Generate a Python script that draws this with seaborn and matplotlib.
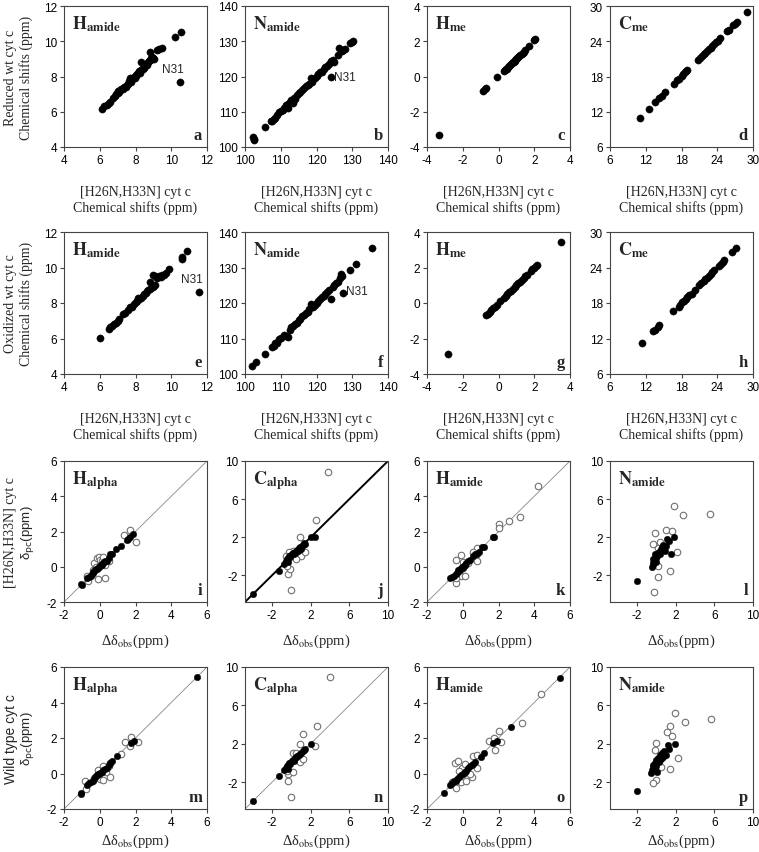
import matplotlib
matplotlib.use("Agg")
import matplotlib.pyplot as plt
import seaborn as sns
import pandas as pd

# ---------------- data ----------------
# rows 1-2: chemical shifts, wt cyt c (y) vs [H26N,H33N] cyt c (x)
a_pts = [(6.15,6.15),(6.25,6.3),(6.4,6.4),(6.5,6.5),(6.6,6.55),(6.75,6.8),(6.85,6.9),(6.9,7.0),(7.0,7.05),(7.0,7.15),
         (7.1,7.1),(7.15,7.25),(7.2,7.3),(7.3,7.3),(7.35,7.4),(7.45,7.4),(7.5,7.5),(7.6,7.6),(7.65,7.75),(7.7,7.9),
         (7.75,7.7),(7.8,7.85),(7.85,7.9),(7.9,8.0),(7.95,7.9),(8.0,8.05),(8.05,8.1),(8.1,8.15),(8.15,8.2),(8.2,8.3),
         (8.25,8.2),(8.3,8.85),(8.3,8.35),(8.35,8.45),(8.4,8.4),(8.45,8.5),(8.5,8.55),(8.55,8.6),(8.6,8.7),(8.65,8.65),
         (8.7,8.8),(8.75,8.9),(8.8,9.4),(8.8,8.95),(8.85,9.05),(8.9,9.0),(8.95,9.1),(9.0,9.05),(9.05,9.0),(9.2,9.5),
         (9.3,9.55),(9.5,9.6),(10.2,10.25),(10.55,10.55),(10.5,7.7)]
b_pts = [(102.3,102.8),(102.5,102.2),(102.6,102.0),(105.5,105.7),(107.2,107.3),(107.6,107.5),(108,108),(108.5,108.3),
         (109,109.2),(109.5,109.8),(110,110.3),(110.5,110.6),(111,111),(111.5,111.8),(112,111.0),(112,112.2),(112.5,112.8),
         (113,113.2),(113.5,112.6),(113.8,114),(114,113.5),(114.5,114.8),(115,115.3),(115.5,115.5),(116,116.2),(116.5,116.6),
         (117,117.3),(117.5,117.6),(118,118),(118.5,119.7),(118.8,118.5),(119,119.2),(119.5,119.5),(120,120.1),(120.5,120.6),
         (121,121.2),(121.5,121.4),(122,122.1),(122.5,122.6),(123,123.1),(123.5,123.5),(124,124.5),(124,120),(124.5,124.8),
         (125,124.2),(126,126),(126.3,128),(127,127.3),(127.5,127.5),(128,127.8),(129.5,129.5),(130,129.8),(130.3,130.2)]
c_pts = [(-3.35,-3.3),(-0.85,-0.8),(-0.75,-0.7),(-0.7,-0.65),(-0.1,-0.05),(0.3,0.3),(0.35,0.35),(0.4,0.4),(0.5,0.45),
         (0.55,0.55),(0.6,0.6),(0.65,0.65),(0.7,0.7),(0.75,0.75),(0.8,0.8),(0.85,0.85),(0.9,0.9),(0.95,0.95),(1.0,1.0),
         (1.05,1.05),(1.1,1.1),(1.15,1.15),(1.2,1.2),(1.3,1.3),(1.35,1.35),(1.4,1.4),(1.5,1.5),(1.7,1.75),(2.0,2.05),(2.05,2.1)]
d_pts = [(11,11),(12.5,12.5),(13.5,13.6),(14.3,14.4),(14.7,14.7),(15.3,15.4),(16.7,16.8),(17.3,17.4),(17.6,17.5),(18,18.1),
         (18.3,18.4),(18.6,18.7),(18.8,18.9),(19,19.1),(20.8,20.8),(21.1,21.1),(21.5,21.5),(21.8,21.9),(22,22),(22.3,22.3),
         (22.6,22.6),(22.9,22.9),(23.2,23.2),(23.5,23.5),(23.8,23.8),(24.1,24.1),(24.4,24.5),(25.7,25.8),(26,26),(26.6,26.7),
         (27,27),(27.3,27.3),(29,29)]
e_pts = [(6.0,6.05),(6.5,6.55),(6.6,6.65),(6.7,6.7),(6.8,6.8),(6.9,6.9),(7.0,7.0),(7.05,7.1),(7.3,7.4),(7.4,7.45),(7.6,7.6),
         (7.7,7.75),(7.8,7.8),(7.9,7.95),(8.0,8.05),(8.1,8.1),(8.15,8.3),(8.2,8.2),(8.3,8.3),(8.4,8.4),(8.5,8.5),(8.6,8.55),
         (8.65,8.7),(8.7,8.75),(8.8,8.8),(8.8,9.2),(8.9,8.95),(9.0,9.6),(9.0,8.9),(9.1,9.5),(9.1,9.0),(9.2,9.4),(9.3,9.5),
         (9.4,9.45),(9.5,9.55),(9.6,9.6),(9.7,9.7),(9.85,9.9),(10.6,10.5),(10.6,10.6),(10.9,10.95),(11.55,8.6)]
f_pts = [(102,102.2),(103,103.3),(105.5,105.6),(107.5,107.5),(108,108),(108.5,108.6),(109,108.8),(109.5,109.8),(110,110.2),
         (111,111),(111.5,110.8),(112,110.5),(112.5,112.5),(113,113.3),(113.5,113.6),(114,114.2),(114.5,114.4),(115,115.2),
         (115.5,115.6),(116,116.2),(116.5,116.6),(117,117.2),(117.5,117.6),(118,118.2),(118.5,119.6),(119,119),(119.5,119.5),
         (120,120.1),(120.5,120.6),(121,121.1),(121.5,121.6),(122,122.1),(122.5,122.6),(123,123.2),(123.5,123.6),(124,121),
         (124.5,124.5),(125,125.1),(125.5,125.6),(126,126),(126.5,127),(126.8,128.3),(127,127.5),(127.5,122.8),(129.5,129.3),
         (131,130.9),(135.5,135.5)]
g_pts = [(-2.85,-2.9),(-0.7,-0.7),(-0.6,-0.6),(-0.5,-0.5),(-0.4,-0.4),(-0.3,-0.3),(-0.2,-0.2),(-0.1,-0.1),(0.1,0.1),(0.3,0.3),
         (0.4,0.4),(0.5,0.5),(0.6,0.6),(0.7,0.7),(0.8,0.8),(0.9,0.9),(1.0,1.0),(1.1,1.1),(1.2,1.2),(1.3,1.3),(1.4,1.4),
         (1.5,1.5),(1.6,1.6),(1.8,1.8),(1.9,1.9),(2.0,2.0),(2.1,2.1),(2.15,2.15),(3.5,3.45)]
h_pts = [(11.3,11.2),(13.2,13.2),(13.6,13.5),(14.0,14.0),(14.2,14.2),(16.6,16.6),(17.5,17.3),(17.8,17.7),(18.1,18.1),
         (18.4,18.4),(18.7,18.7),(19,19),(19.3,19.3),(19.7,19.6),(20.3,20.2),(21,21),(21.3,21.3),(21.7,21.7),(22,22),
         (22.3,22.3),(22.6,22.6),(22.9,22.9),(23.2,23.2),(23.5,23.5),(24.3,24.3),(24.6,24.6),(24.9,24.9),(25.2,25.2),
         (26.5,26.6),(27.2,27.3)]

# rows 3-4: delta_pc (y) vs delta_obs (x); filled and open symbols
i_fill = [(-1.0,-1.05),(-1.05,-1.0),(-0.7,-0.65),(-0.6,-0.6),(-0.5,-0.5),(-0.45,-0.4),(-0.4,-0.35),(-0.35,-0.3),(-0.3,-0.25),
          (-0.25,-0.2),(-0.2,-0.15),(-0.15,-0.1),(-0.1,-0.05),(-0.05,0.0),(0.0,0.05),(0.05,0.1),(0.1,0.1),(0.15,0.15),(0.2,0.2),
          (0.25,0.25),(0.3,0.3),(0.4,0.35),(0.5,0.5),(0.6,0.7),(0.7,0.75),(0.9,1.0),(1.2,1.15),(1.5,1.5),(1.6,1.6),(1.7,1.7),(1.85,1.85)]
i_open = [(-0.7,-0.5),(-0.65,-0.8),(-0.3,0.2),(-0.15,0.5),(-0.05,0.55),(0.0,0.4),(0.1,0.3),(-0.1,-0.7),(0.3,-0.65),(0.2,0.55),
          (0.5,0.35),(1.35,1.8),(1.7,2.1),(2.05,1.4),(-0.4,-0.2),(0.3,0.1),(-0.2,0.0)]
j_fill = [(-4.0,-4.0),(-1.3,-1.5),(-0.8,-0.8),(-0.6,-0.5),(-0.5,-0.3),(-0.4,-0.6),(-0.3,-0.2),(-0.2,0.0),(-0.1,-0.1),(0.0,0.1),
          (0.1,0.2),(0.2,0.3),(0.3,0.2),(0.4,0.5),(0.5,0.4),(0.6,0.7),(0.7,0.6),(0.8,0.9),(0.9,1.0),(1.0,0.8),(1.1,1.1),(1.2,1.2),
          (1.3,1.4),(1.4,1.3),(2.0,2.0),(2.4,2.0)]
j_open = [(3.8,8.8),(2.5,3.8),(0.0,-3.5),(-0.3,-1.9),(-0.1,-1.3),(-0.5,-1.0),(0.9,2.0),(1.0,0.0),(0.2,0.6),(-0.2,0.4),
          (0.5,-0.3),(-0.6,0.0),(1.4,0.5)]
k_fill = [(-0.7,-0.65),(-0.6,-0.6),(-0.5,-0.55),(-0.4,-0.4),(-0.3,-0.35),(-0.25,-0.2),(-0.2,-0.25),(-0.15,-0.1),(-0.1,-0.15),
          (-0.05,0.0),(0.0,-0.05),(0.05,0.05),(0.1,0.1),(0.15,0.1),(0.2,0.2),(0.3,0.3),(0.4,0.4),(0.6,0.6),(0.7,0.7),(0.8,0.7),
          (0.9,0.85),(1.1,1.1),(1.2,1.1),(1.7,1.7),(1.75,1.7)]
k_open = [(-0.35,0.4),(-0.1,0.65),(-0.35,-0.9),(-0.1,-0.55),(0.1,-0.5),(0.0,0.25),(0.8,0.3),(0.8,1.05),(0.6,0.85),(2.0,2.4),
          (2.05,2.2),(2.6,2.6),(3.2,2.85),(4.2,4.6),(-0.4,-0.65),(0.3,0.2)]
l_fill = [(-2.0,-2.6),(-0.5,-1.1),(-0.4,-0.9),(-0.3,-0.7),(-0.2,-0.5),(-0.3,-0.3),(-0.1,-0.1),(0.0,-0.2),(-0.1,0.2),(0.1,0.0),
          (0.2,0.3),(0.0,-0.6),(0.3,0.5),(0.4,0.2),(0.5,0.8),(0.6,1.0),(0.7,1.2),(0.9,0.6),(1.0,1.1),(1.1,1.8),(1.3,1.6),
          (1.5,0.2),(1.8,2.0)]
l_open = [(1.8,5.3),(2.8,4.3),(5.5,4.4),(-0.1,2.4),(1.0,2.8),(1.6,2.7),(0.2,0.9),(-0.3,1.3),(2.1,0.4),(1.4,-1.5),(0.2,-2.2),
          (-0.2,-3.8),(0.2,-1.0),(0.4,1.5)]
m_fill = [(-1.05,-1.1),(-1.05,-1.15),(-0.7,-0.65),(-0.6,-0.55),(-0.5,-0.5),(-0.4,-0.4),(-0.3,-0.3),(-0.25,-0.2),(-0.2,-0.15),
          (-0.15,-0.1),(-0.1,-0.05),(-0.05,0.0),(0.0,0.05),(0.1,0.1),(0.15,0.1),(0.2,0.2),(0.3,0.25),(0.4,0.3),(0.5,0.5),
          (0.6,0.6),(0.7,0.7),(0.95,1.0),(1.75,1.7),(1.9,1.85),(5.45,5.45)]
m_open = [(-0.8,-0.45),(-0.75,-0.85),(-0.1,0.2),(0.2,0.45),(0.0,-0.3),(0.2,-0.35),(0.55,-0.2),(0.5,0.4),(0.6,0.6),(1.4,1.8),
          (1.75,2.05),(1.7,1.55),(2.15,1.75),(1.2,1.1),(-0.3,-0.25),(0.35,0.1)]
n_fill = [(-4.0,-4.0),(-1.3,-1.4),(-0.8,-0.7),(-0.6,-0.5),(-0.5,-0.3),(-0.4,-0.6),(-0.3,-0.2),(-0.2,0.0),(-0.1,-0.1),(0.0,0.1),
          (0.1,0.2),(0.2,0.3),(0.3,0.2),(0.4,0.5),(0.5,0.6),(0.6,0.7),(0.8,0.8),(0.9,0.9),(1.0,1.0),(1.2,1.2),(1.3,1.4),
          (1.4,1.5),(2.0,2.0)]
n_open = [(4.0,9.0),(2.6,3.8),(1.2,3.0),(0.9,2.0),(0.0,-3.6),(-0.3,-1.9),(-0.4,-1.2),(0.2,-0.9),(0.2,1.0),(2.4,1.8),(0.9,0.1),
          (1.2,0.4),(-0.5,-0.8),(0.5,1.0)]
o_fill = [(-1.05,-1.1),(-0.7,-0.65),(-0.6,-0.55),(-0.5,-0.45),(-0.4,-0.4),(-0.3,-0.3),(-0.2,-0.2),(-0.1,-0.1),(0.0,0.0),
          (0.05,0.05),(0.1,0.1),(0.2,0.15),(0.3,0.3),(0.4,0.4),(0.5,0.5),(0.6,0.55),(0.7,0.65),(1.0,0.95),(1.2,1.15),(1.7,1.7),
          (1.9,1.85),(2.7,2.6),(5.45,5.4)]
o_open = [(-0.45,0.6),(-0.25,0.7),(-0.6,-0.5),(-0.4,-0.8),(-0.1,-0.5),(0.2,-0.45),(0.5,-0.2),(0.55,1.0),(0.8,1.05),(0.8,0.3),
          (-0.05,0.3),(0.1,0.55),(1.45,1.85),(1.75,2.0),(1.8,1.35),(2.05,2.4),(2.15,1.75),(3.3,2.85),(4.4,4.5),(0.4,0.0),(-0.2,0.15)]
p_fill = [(-2.0,-2.9),(-0.6,-1.0),(-0.5,-0.7),(-0.4,-0.4),(-0.3,-0.2),(-0.2,-0.6),(-0.1,0.0),(0.0,-0.3),(0.0,0.3),(0.1,-0.9),
          (0.2,0.5),(0.3,0.1),(0.4,0.8),(0.5,0.4),(0.6,1.0),(0.7,0.6),(0.8,1.2),(1.0,0.8),(1.2,1.9),(1.3,1.5),(1.9,2.0)]
p_open = [(1.9,5.2),(3.0,4.3),(5.7,4.6),(1.4,3.9),(1.1,3.2),(1.6,2.8),(0.0,2.1),(-0.1,1.3),(2.2,0.5),(1.4,-0.6),(0.0,-1.8),
          (-0.3,-2.1),(0.5,-0.4)]

# axis settings
lims_H = (4, 12); ticks_H = [4, 6, 8, 10, 12]
lims_N = (100, 140); ticks_N = [100, 110, 120, 130, 140]
lims_Hme = (-4, 4); ticks_Hme = [-4, -2, 0, 2, 4]
lims_Cme = (6, 30); ticks_Cme = [6, 12, 18, 24, 30]
lims_small = (-2, 6); ticks_small = [-2, 0, 2, 4, 6]
lims_big = (-4.8, 10); ticks_big = [-2, 2, 6, 10]

row_ylabels = [("Reduced wt cyt c", "Chemical shifts (ppm)"),
               ("Oxidized wt cyt c", "Chemical shifts (ppm)"),
               ("[H26N,H33N] cyt c", "δ$_{\\rm pc}$(ppm)"),
               ("Wild type cyt c", "δ$_{\\rm pc}$(ppm)")]

# ---------------- style ----------------
sns.set_style("ticks")
plt.rcParams["font.family"] = ["Liberation Sans", "DejaVu Sans"]
SERIF = ["Liberation Serif", "DejaVu Serif"]
SANS = ["Liberation Sans", "DejaVu Sans"]
SPINE = "#444444"

W, H = 759, 853
fig = plt.figure(figsize=(W / 100, H / 100), dpi=100)
cols = [64, 245, 427, 610]
pw = 143
rows = [(7, 148), (233, 375), (462, 603), (668, 810)]


def make_ax(c, r):
    top, bot = rows[r]
    return fig.add_axes([cols[c] / W, 1 - bot / H, pw / W, (bot - top) / H])


def style(ax, lims, ticks, title, letter):
    ax.set_xlim(lims); ax.set_ylim(lims)
    ax.set_xticks(ticks); ax.set_yticks(ticks)
    ax.set_xticklabels([f"{t:g}" for t in ticks]); ax.set_yticklabels([f"{t:g}" for t in ticks])
    for s in ax.spines.values():
        s.set_color(SPINE); s.set_linewidth(0.8)
    ax.tick_params(direction="out", length=3, width=0.8, colors=SPINE, labelcolor="black", labelsize=8.5, pad=2)
    main, sub = title
    ax.text(0.055, 0.84, r"$\mathbf{%s}_{\mathbf{%s}}$" % (main, sub), transform=ax.transAxes,
            fontsize=13, math_fontfamily="stix", ha="left", va="baseline")
    ax.text(0.965, 0.03, letter, transform=ax.transAxes, ha="right", va="bottom",
            fontsize=12, fontweight="bold", family=SERIF)


def scatter_pts(ax, pts, filled=True, s=20):
    df = pd.DataFrame(pts, columns=["x", "y"])
    if filled:
        sns.scatterplot(data=df, x="x", y="y", ax=ax, color="black", edgecolor="black", s=s, linewidth=0.3, zorder=3)
    else:
        sns.scatterplot(data=df, x="x", y="y", ax=ax, color="white", edgecolor="#707070", s=s, linewidth=0.8, zorder=2)
    ax.set_xlabel(""); ax.set_ylabel("")


top_panels = [
    (0, 0, a_pts, lims_H, ticks_H, ("H", "amide"), "a", (10.1, 8.1)),
    (1, 0, b_pts, lims_N, ticks_N, ("N", "amide"), "b", (124.8, 119.8)),
    (2, 0, c_pts, lims_Hme, ticks_Hme, ("H", "me"), "c", None),
    (3, 0, d_pts, lims_Cme, ticks_Cme, ("C", "me"), "d", None),
    (0, 1, e_pts, lims_H, ticks_H, ("H", "amide"), "e", (11.15, 9.0)),
    (1, 1, f_pts, lims_N, ticks_N, ("N", "amide"), "f", (128.2, 123.3)),
    (2, 1, g_pts, lims_Hme, ticks_Hme, ("H", "me"), "g", None),
    (3, 1, h_pts, lims_Cme, ticks_Cme, ("C", "me"), "h", None),
]
for c, r, pts, lims, ticks, title, letter, n31 in top_panels:
    ax = make_ax(c, r)
    scatter_pts(ax, pts, True, s=27)
    style(ax, lims, ticks, title, letter)
    if n31 is not None:
        ha = "center" if c == 0 else "left"
        ax.text(n31[0], n31[1], "N31", fontsize=8.5, ha=ha, va="bottom" if c == 0 else "center")
    ax.set_xlabel("[H26N,H33N] cyt c\nChemical shifts (ppm)", family=SERIF, fontsize=10,
                  labelpad=14, linespacing=1.15)

bottom_panels = [
    (0, 2, i_fill, i_open, lims_small, ticks_small, ("H", "alpha"), "i", 0.6, "#888888"),
    (1, 2, j_fill, j_open, lims_big, ticks_big, ("C", "alpha"), "j", 1.4, "black"),
    (2, 2, k_fill, k_open, lims_small, ticks_small, ("H", "amide"), "k", 0.6, "#888888"),
    (3, 2, l_fill, l_open, lims_big, ticks_big, ("N", "amide"), "l", None, None),
    (0, 3, m_fill, m_open, lims_small, ticks_small, ("H", "alpha"), "m", 0.6, "#888888"),
    (1, 3, n_fill, n_open, lims_big, ticks_big, ("C", "alpha"), "n", 0.6, "#888888"),
    (2, 3, o_fill, o_open, lims_small, ticks_small, ("H", "amide"), "o", 0.6, "#888888"),
    (3, 3, p_fill, p_open, lims_big, ticks_big, ("N", "amide"), "p", None, None),
]
for c, r, fill, opn, lims, ticks, title, letter, lw, lc in bottom_panels:
    ax = make_ax(c, r)
    if lw is not None:
        ax.axline((0, 0), slope=1, color=lc, lw=lw, zorder=1)
    scatter_pts(ax, opn, False, s=22)
    scatter_pts(ax, fill, True, s=22)
    style(ax, lims, ticks, title, letter)
    ax.set_xlabel("Δδ$_{\\rm obs}$(ppm)", family=SERIF, fontsize=10.5,
                  math_fontfamily="stix", labelpad=8 if r == 2 else 3)

# row y labels
for r, (l1, l2) in enumerate(row_ylabels):
    top, bot = rows[r]
    yc = 1 - (top + bot) / 2 / H
    fam1 = SERIF if r < 3 else SANS
    fig.text(11 / W, yc, l1, rotation=90, ha="center", va="center", fontsize=10, family=fam1)
    if r < 2:
        fig.text(26 / W, yc, l2, rotation=90, ha="center", va="center", fontsize=10, family=SERIF)
    else:
        fig.text(27 / W, yc, l2, rotation=90, ha="center", va="center", fontsize=9.5,
                 family=SANS, math_fontfamily="dejavusans")

fig.savefig("out.png", dpi=100, facecolor="white")
